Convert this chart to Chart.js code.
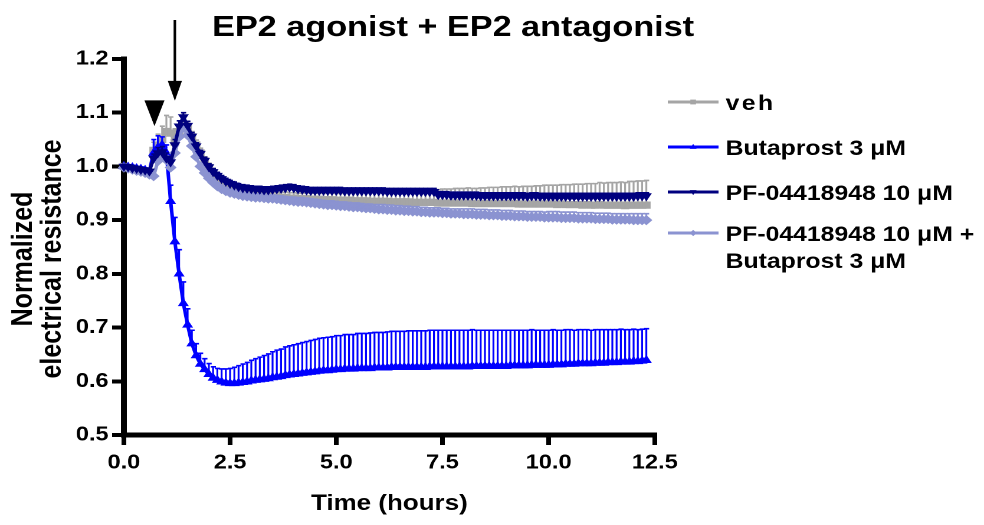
<!DOCTYPE html>
<html>
<head>
<meta charset="utf-8">
<script src="https://cdn.jsdelivr.net/npm/chart.js"></script>
<style>
  html, body { margin: 0; padding: 0; background: #fff; overflow: hidden; }
  /* the original figure is stretched horizontally, so the whole canvas is too */
  #wrap { width: 834px; height: 525px; transform: scaleX(1.17986); transform-origin: 0 0; }
</style>
</head>
<body>
<div id="wrap"><canvas id="chart" width="834" height="525"></canvas></div>
<script>
// time points (hours)
const hours = [
  0.0, 0.1, 0.2, 0.3, 0.4, 0.5, 0.6, 0.7, 0.8, 0.9,
  1.0, 1.1, 1.2, 1.3, 1.4, 1.5, 1.6, 1.7, 1.8, 1.9,
  2.0, 2.1, 2.2, 2.3, 2.4, 2.5, 2.6, 2.7, 2.8, 2.9,
  3.0, 3.1, 3.2, 3.3, 3.4, 3.5, 3.6, 3.7, 3.8, 3.9,
  4.0, 4.1, 4.2, 4.3, 4.4, 4.5, 4.6, 4.7, 4.8, 4.9,
  5.0, 5.1, 5.2, 5.3, 5.4, 5.5, 5.6, 5.7, 5.8, 5.9,
  6.0, 6.1, 6.2, 6.3, 6.4, 6.5, 6.6, 6.7, 6.8, 6.9,
  7.0, 7.1, 7.2, 7.3, 7.4, 7.5, 7.6, 7.7, 7.8, 7.9,
  8.0, 8.1, 8.2, 8.3, 8.4, 8.5, 8.6, 8.7, 8.8, 8.9,
  9.0, 9.1, 9.2, 9.3, 9.4, 9.5, 9.6, 9.7, 9.8, 9.9,
  10.0, 10.1, 10.2, 10.3, 10.4, 10.5, 10.6, 10.7, 10.8, 10.9,
  11.0, 11.1, 11.2, 11.3, 11.4, 11.5, 11.6, 11.7, 11.8, 11.9,
  12.0, 12.1, 12.2, 12.3
];

// veh
const vehMean = [
  1.000, 0.998, 0.997, 0.995, 0.994, 0.992, 0.990, 1.030, 1.040, 1.050,
  1.065, 1.062, 1.045, 1.060, 1.078, 1.070, 1.055, 1.040, 1.025, 1.010,
  0.998, 0.988, 0.980, 0.973, 0.967, 0.962, 0.958, 0.955, 0.952, 0.950,
  0.948, 0.947, 0.946, 0.945, 0.944, 0.943, 0.943, 0.942, 0.942, 0.941,
  0.941, 0.940, 0.940, 0.940, 0.939, 0.939, 0.939, 0.938, 0.938, 0.938,
  0.937, 0.937, 0.937, 0.937, 0.936, 0.936, 0.936, 0.936, 0.935, 0.935,
  0.935, 0.935, 0.935, 0.934, 0.934, 0.934, 0.934, 0.934, 0.933, 0.933,
  0.933, 0.933, 0.933, 0.933, 0.932, 0.932, 0.932, 0.932, 0.932, 0.932,
  0.932, 0.932, 0.931, 0.931, 0.931, 0.931, 0.931, 0.931, 0.931, 0.931,
  0.931, 0.931, 0.931, 0.930, 0.930, 0.930, 0.930, 0.930, 0.930, 0.930,
  0.930, 0.930, 0.929, 0.930, 0.929, 0.929, 0.929, 0.929, 0.928, 0.929,
  0.928, 0.928, 0.929, 0.928, 0.928, 0.928, 0.928, 0.928, 0.927, 0.928,
  0.928, 0.928, 0.928, 0.928
];
const vehSem = [
  0.004, 0.004, 0.004, 0.004, 0.004, 0.004, 0.004, 0.015, 0.020, 0.025,
  0.030, 0.030, 0.025, 0.015, 0.012, 0.010, 0.010, 0.009, 0.009, 0.008,
  0.008, 0.008, 0.008, 0.008, 0.008, 0.008, 0.008, 0.008, 0.008, 0.008,
  0.008, 0.008, 0.008, 0.009, 0.009, 0.009, 0.009, 0.009, 0.010, 0.010,
  0.010, 0.010, 0.010, 0.011, 0.011, 0.011, 0.011, 0.012, 0.012, 0.012,
  0.013, 0.013, 0.014, 0.015, 0.015, 0.016, 0.017, 0.018, 0.018, 0.019,
  0.020, 0.020, 0.021, 0.021, 0.022, 0.022, 0.023, 0.023, 0.023, 0.024,
  0.024, 0.024, 0.025, 0.025, 0.025, 0.026, 0.026, 0.026, 0.027, 0.027,
  0.027, 0.028, 0.028, 0.028, 0.029, 0.029, 0.030, 0.030, 0.030, 0.031,
  0.031, 0.031, 0.032, 0.032, 0.033, 0.033, 0.033, 0.034, 0.034, 0.035,
  0.035, 0.035, 0.036, 0.036, 0.037, 0.037, 0.038, 0.038, 0.039, 0.039,
  0.040, 0.040, 0.041, 0.041, 0.042, 0.042, 0.042, 0.043, 0.043, 0.044,
  0.044, 0.045, 0.045, 0.046
];

// Butaprost 3 uM
const butaMean = [
  1.000, 0.999, 0.998, 0.996, 0.995, 0.993, 0.991, 1.025, 1.035, 1.040,
  1.025, 0.935, 0.860, 0.800, 0.745, 0.705, 0.670, 0.648, 0.632, 0.622,
  0.613, 0.606, 0.602, 0.599, 0.597, 0.596, 0.596, 0.597, 0.598, 0.599,
  0.601, 0.602, 0.603, 0.604, 0.605, 0.607, 0.608, 0.609, 0.611, 0.612,
  0.613, 0.614, 0.615, 0.616, 0.617, 0.618, 0.619, 0.620, 0.620, 0.621,
  0.622, 0.622, 0.623, 0.623, 0.623, 0.624, 0.624, 0.624, 0.624, 0.625,
  0.625, 0.625, 0.625, 0.626, 0.626, 0.626, 0.626, 0.626, 0.626, 0.626,
  0.626, 0.626, 0.627, 0.627, 0.627, 0.627, 0.627, 0.627, 0.627, 0.627,
  0.627, 0.627, 0.628, 0.628, 0.628, 0.628, 0.628, 0.628, 0.628, 0.628,
  0.628, 0.629, 0.629, 0.629, 0.629, 0.629, 0.630, 0.630, 0.630, 0.630,
  0.630, 0.631, 0.631, 0.631, 0.632, 0.632, 0.632, 0.633, 0.633, 0.633,
  0.633, 0.634, 0.634, 0.634, 0.635, 0.635, 0.635, 0.636, 0.636, 0.636,
  0.637, 0.637, 0.638, 0.639
];
const butaSem = [
  0.004, 0.004, 0.004, 0.004, 0.004, 0.004, 0.004, 0.025, 0.022, 0.015,
  0.015, 0.030, 0.045, 0.045, 0.040, 0.030, 0.025, 0.022, 0.020, 0.020,
  0.020, 0.021, 0.022, 0.024, 0.026, 0.028, 0.030, 0.032, 0.034, 0.036,
  0.038, 0.040, 0.042, 0.044, 0.046, 0.048, 0.050, 0.051, 0.053, 0.054,
  0.055, 0.056, 0.057, 0.058, 0.059, 0.060, 0.061, 0.061, 0.062, 0.062,
  0.063, 0.063, 0.064, 0.064, 0.064, 0.065, 0.065, 0.065, 0.066, 0.066,
  0.066, 0.066, 0.067, 0.067, 0.067, 0.067, 0.067, 0.068, 0.068, 0.068,
  0.068, 0.068, 0.068, 0.068, 0.068, 0.068, 0.068, 0.068, 0.068, 0.068,
  0.068, 0.068, 0.068, 0.067, 0.067, 0.067, 0.067, 0.067, 0.067, 0.067,
  0.067, 0.066, 0.066, 0.066, 0.066, 0.066, 0.066, 0.065, 0.065, 0.065,
  0.065, 0.065, 0.064, 0.064, 0.064, 0.064, 0.063, 0.063, 0.063, 0.063,
  0.062, 0.062, 0.062, 0.062, 0.061, 0.061, 0.061, 0.061, 0.060, 0.060,
  0.060, 0.059, 0.059, 0.059
];

// PF-04418948 10 uM
const pfMean = [
  1.000, 0.999, 0.997, 0.996, 0.994, 0.993, 0.991, 1.015, 1.025, 1.027,
  1.015, 1.008, 1.040, 1.075, 1.092, 1.076, 1.056, 1.038, 1.024, 1.011,
  0.999, 0.990, 0.983, 0.977, 0.972, 0.968, 0.965, 0.962, 0.960, 0.959,
  0.958, 0.957, 0.957, 0.956, 0.956, 0.957, 0.958, 0.959, 0.960, 0.961,
  0.960, 0.958, 0.957, 0.956, 0.955, 0.955, 0.955, 0.955, 0.955, 0.955,
  0.955, 0.955, 0.954, 0.954, 0.954, 0.954, 0.954, 0.954, 0.954, 0.954,
  0.954, 0.954, 0.953, 0.953, 0.953, 0.953, 0.953, 0.953, 0.953, 0.953,
  0.953, 0.953, 0.953, 0.953, 0.947, 0.947, 0.947, 0.946, 0.946, 0.946,
  0.946, 0.946, 0.946, 0.946, 0.945, 0.945, 0.945, 0.945, 0.945, 0.945,
  0.945, 0.945, 0.945, 0.945, 0.945, 0.944, 0.945, 0.945, 0.944, 0.944,
  0.944, 0.944, 0.944, 0.944, 0.944, 0.944, 0.944, 0.944, 0.944, 0.944,
  0.944, 0.944, 0.944, 0.944, 0.944, 0.944, 0.944, 0.944, 0.944, 0.944,
  0.944, 0.945, 0.945, 0.945
];
const pfSem = [
  0.004, 0.004, 0.004, 0.004, 0.004, 0.004, 0.004, 0.008, 0.010, 0.010,
  0.010, 0.010, 0.010, 0.010, 0.008, 0.008, 0.007, 0.006, 0.006, 0.006,
  0.006, 0.006, 0.006, 0.006, 0.006, 0.006, 0.006, 0.006, 0.006, 0.006,
  0.006, 0.006, 0.006, 0.006, 0.006, 0.006, 0.006, 0.006, 0.006, 0.006,
  0.006, 0.006, 0.006, 0.006, 0.006, 0.006, 0.006, 0.006, 0.006, 0.006,
  0.006, 0.006, 0.006, 0.006, 0.006, 0.006, 0.006, 0.006, 0.006, 0.006,
  0.006, 0.006, 0.006, 0.006, 0.006, 0.006, 0.006, 0.006, 0.006, 0.006,
  0.006, 0.006, 0.006, 0.006, 0.006, 0.006, 0.006, 0.006, 0.006, 0.006,
  0.006, 0.006, 0.006, 0.006, 0.006, 0.006, 0.006, 0.006, 0.006, 0.006,
  0.006, 0.006, 0.006, 0.006, 0.006, 0.006, 0.006, 0.006, 0.006, 0.006,
  0.006, 0.006, 0.006, 0.006, 0.006, 0.006, 0.006, 0.006, 0.006, 0.006,
  0.006, 0.006, 0.006, 0.006, 0.006, 0.006, 0.006, 0.006, 0.006, 0.006,
  0.006, 0.006, 0.006, 0.006
];

// PF-04418948 10 uM + Butaprost 3 uM
const comboMean = [
  0.998, 0.996, 0.994, 0.992, 0.990, 0.988, 0.985, 0.982, 1.010, 1.020,
  1.012, 0.998, 1.025, 1.055, 1.072, 1.058, 1.038, 1.018, 1.000, 0.988,
  0.978, 0.970, 0.963, 0.958, 0.954, 0.951, 0.949, 0.947, 0.945, 0.944,
  0.943, 0.942, 0.942, 0.941, 0.940, 0.940, 0.939, 0.938, 0.937, 0.936,
  0.935, 0.934, 0.934, 0.933, 0.932, 0.931, 0.930, 0.929, 0.928, 0.928,
  0.927, 0.926, 0.926, 0.925, 0.924, 0.924, 0.923, 0.922, 0.922, 0.921,
  0.920, 0.920, 0.919, 0.919, 0.918, 0.918, 0.917, 0.917, 0.916, 0.916,
  0.915, 0.915, 0.914, 0.914, 0.914, 0.913, 0.913, 0.912, 0.912, 0.912,
  0.911, 0.911, 0.911, 0.910, 0.910, 0.910, 0.909, 0.909, 0.909, 0.908,
  0.908, 0.908, 0.907, 0.907, 0.907, 0.906, 0.906, 0.906, 0.906, 0.905,
  0.905, 0.905, 0.905, 0.904, 0.904, 0.904, 0.904, 0.903, 0.903, 0.903,
  0.903, 0.902, 0.902, 0.902, 0.902, 0.901, 0.901, 0.901, 0.901, 0.901,
  0.900, 0.900, 0.900, 0.900
];
const comboSem = [
  0.004, 0.004, 0.004, 0.004, 0.004, 0.004, 0.004, 0.004, 0.008, 0.008,
  0.008, 0.008, 0.008, 0.008, 0.008, 0.008, 0.007, 0.007, 0.007, 0.007,
  0.007, 0.007, 0.007, 0.007, 0.007, 0.007, 0.007, 0.007, 0.007, 0.007,
  0.007, 0.007, 0.007, 0.007, 0.007, 0.007, 0.007, 0.007, 0.007, 0.007,
  0.008, 0.008, 0.008, 0.008, 0.008, 0.008, 0.008, 0.008, 0.008, 0.008,
  0.008, 0.008, 0.008, 0.008, 0.008, 0.008, 0.008, 0.008, 0.008, 0.008,
  0.009, 0.009, 0.009, 0.009, 0.009, 0.009, 0.009, 0.009, 0.009, 0.009,
  0.009, 0.009, 0.009, 0.009, 0.009, 0.009, 0.009, 0.009, 0.009, 0.009,
  0.010, 0.010, 0.010, 0.010, 0.010, 0.010, 0.010, 0.010, 0.010, 0.010,
  0.010, 0.010, 0.010, 0.010, 0.010, 0.010, 0.010, 0.010, 0.010, 0.010,
  0.011, 0.011, 0.011, 0.011, 0.011, 0.011, 0.011, 0.011, 0.011, 0.011,
  0.011, 0.011, 0.011, 0.011, 0.011, 0.011, 0.011, 0.011, 0.011, 0.011,
  0.012, 0.012, 0.012, 0.012
];

const seriesNames = [
  ['veh'],
  ['Butaprost 3 μM'],
  ['PF-04418948 10 μM'],
  ['PF-04418948 10 μM +', 'Butaprost 3 μM']
];
const seriesColors = ['#a5a5a5', '#0000ff', '#00007f', '#8b93d1'];
const seriesStyles = ['rect', 'triangle', 'triangle', 'rectRot'];
const seriesRotation = [0, 0, 180, 0];

const titleText = 'EP2 agonist + EP2 antagonist';
const xTitle = 'Time (hours)';
const yTitle = ['Normalized', 'electrical resistance'];

// additions: arrowhead marker (first) and arrow (second), in hours
const triangleTime = 0.72;
const arrowTime = 1.2;

const FONT = "'Liberation Sans', Arial, sans-serif";
Chart.defaults.font.family = FONT;
Chart.defaults.color = '#000';

function makeDataset(i, means, sems, order) {
  return {
    label: seriesNames[i].join(' '),
    data: hours.map((h, k) => ({ x: h, y: means[k] })),
    sem: sems,
    borderColor: seriesColors[i],
    backgroundColor: seriesColors[i],
    borderWidth: 3,
    pointStyle: seriesStyles[i],
    pointRotation: seriesRotation[i],
    pointRadius: 4.4,
    pointBorderWidth: 1,
    tension: 0,
    clip: false,
    order: order
  };
}

// upward SEM bars, drawn right before each dataset's line
const errorBars = {
  id: 'errorBars',
  beforeDatasetDraw(chart, args) {
    const ds = chart.data.datasets[args.index];
    const yScale = chart.scales.y;
    const ctx = chart.ctx;
    ctx.save();
    ctx.strokeStyle = ds.borderColor;
    ctx.lineWidth = 1.6;
    args.meta.data.forEach((pt, k) => {
      const top = yScale.getPixelForValue(ds.data[k].y + ds.sem[k]);
      ctx.beginPath();
      ctx.moveTo(pt.x, pt.y);
      ctx.lineTo(pt.x, top);
      ctx.moveTo(pt.x - 2, top);
      ctx.lineTo(pt.x + 2.4, top);
      ctx.stroke();
    });
    ctx.restore();
  }
};

function drawMarker(ctx, style, rot, x, y, r) {
  ctx.beginPath();
  if (style === 'rect') {
    ctx.rect(x - r, y - r, 2 * r, 2 * r);
  } else if (style === 'rectRot') {
    ctx.moveTo(x, y - r * 1.3); ctx.lineTo(x + r * 1.3, y);
    ctx.lineTo(x, y + r * 1.3); ctx.lineTo(x - r * 1.3, y);
  } else {
    const d = rot === 180 ? -1 : 1;
    ctx.moveTo(x, y - d * r * 1.3);
    ctx.lineTo(x + r * 1.2, y + d * r * 0.8);
    ctx.lineTo(x - r * 1.2, y + d * r * 0.8);
  }
  ctx.closePath();
  ctx.fill();
}

// title, y title, legend and the treatment markers
const decorations = {
  id: 'decorations',
  afterDraw(chart) {
    const ctx = chart.ctx;
    const xs = chart.scales.x, ys = chart.scales.y;
    ctx.save();

    ctx.fillStyle = '#000';
    ctx.font = 'bold 29px ' + FONT;
    ctx.textAlign = 'center';
    ctx.textBaseline = 'middle';
    ctx.fillText(titleText, 384, 28);

    // y axis title, sits a bit below the middle of the axis
    ctx.save();
    ctx.translate(20, 259);
    ctx.rotate(-Math.PI / 2);
    ctx.font = 'bold 25px ' + FONT;
    yTitle.forEach((t, k) => ctx.fillText(t, 0, k * 24.5));
    ctx.restore();

    // filled arrowhead (first addition)
    const tx = xs.getPixelForValue(triangleTime);
    ctx.beginPath();
    ctx.moveTo(tx - 8.5, ys.getPixelForValue(1.123));
    ctx.lineTo(tx + 8.5, ys.getPixelForValue(1.123));
    ctx.lineTo(tx, ys.getPixelForValue(1.075));
    ctx.closePath();
    ctx.fill();

    // arrow (second addition)
    const ax = xs.getPixelForValue(arrowTime);
    const tipY = ys.getPixelForValue(1.122);
    ctx.strokeStyle = '#000';
    ctx.lineWidth = 2.2;
    ctx.beginPath();
    ctx.moveTo(ax, 20);
    ctx.lineTo(ax, tipY - 10);
    ctx.stroke();
    ctx.beginPath();
    ctx.moveTo(ax - 6, tipY - 20);
    ctx.lineTo(ax + 6, tipY - 20);
    ctx.lineTo(ax, tipY);
    ctx.closePath();
    ctx.fill();

    // legend
    const rows = [102, 147, 192, 233];
    ctx.textAlign = 'left';
    ctx.font = 'bold 21px ' + FONT;
    seriesNames.forEach((lines, i) => {
      const y = rows[i];
      ctx.strokeStyle = seriesColors[i];
      ctx.fillStyle = seriesColors[i];
      ctx.lineWidth = 3;
      ctx.beginPath();
      ctx.moveTo(566, y);
      ctx.lineTo(609, y);
      ctx.stroke();
      drawMarker(ctx, seriesStyles[i], seriesRotation[i], 587.5, y, 2.4);
      ctx.fillStyle = '#000';
      ctx.letterSpacing = i === 0 ? '2px' : '0px';
      lines.forEach((t, k) => ctx.fillText(t, 615, y + 2 + k * 27));
    });
    ctx.letterSpacing = '0px';
    ctx.restore();
  }
};

const axisGrid = {
  drawOnChartArea: false,
  drawTicks: true,
  tickLength: 10,
  lineWidth: 4,
  tickWidth: 4,
  tickColor: '#000',
  color: '#000'
};

new Chart(document.getElementById('chart'), {
  type: 'line',
  data: {
    datasets: [
      makeDataset(0, vehMean, vehSem, 4),
      makeDataset(1, butaMean, butaSem, 3),
      makeDataset(2, pfMean, pfSem, 1),
      makeDataset(3, comboMean, comboSem, 2)
    ]
  },
  options: {
    responsive: false,
    animation: false,
    devicePixelRatio: 2,
    events: [],
    layout: { padding: { top: 59, right: 279, bottom: 0, left: 0 } },
    plugins: {
      legend: { display: false },
      title: { display: false },
      tooltip: { enabled: false }
    },
    scales: {
      x: {
        type: 'linear',
        min: 0,
        max: 12.5,
        afterFit(scale) { scale.height = 90; },
        border: { display: true, color: '#000', width: 5 },
        grid: axisGrid,
        ticks: {
          stepSize: 2.5,
          padding: 6,
          maxRotation: 0,
          font: { size: 20, weight: 'bold' },
          callback: v => v.toFixed(1)
        },
        title: {
          display: true,
          text: xTitle,
          font: { size: 22, weight: 'bold' },
          padding: { top: 0, bottom: 8 }
        }
      },
      y: {
        min: 0.5,
        max: 1.2,
        afterFit(scale) { scale.width = 105; },
        border: { display: true, color: '#000', width: 5 },
        grid: axisGrid,
        ticks: {
          stepSize: 0.1,
          padding: 3,
          font: { size: 20, weight: 'bold' },
          callback: v => v.toFixed(1)
        }
      }
    }
  },
  plugins: [errorBars, decorations]
});
</script>
</body>
</html>
